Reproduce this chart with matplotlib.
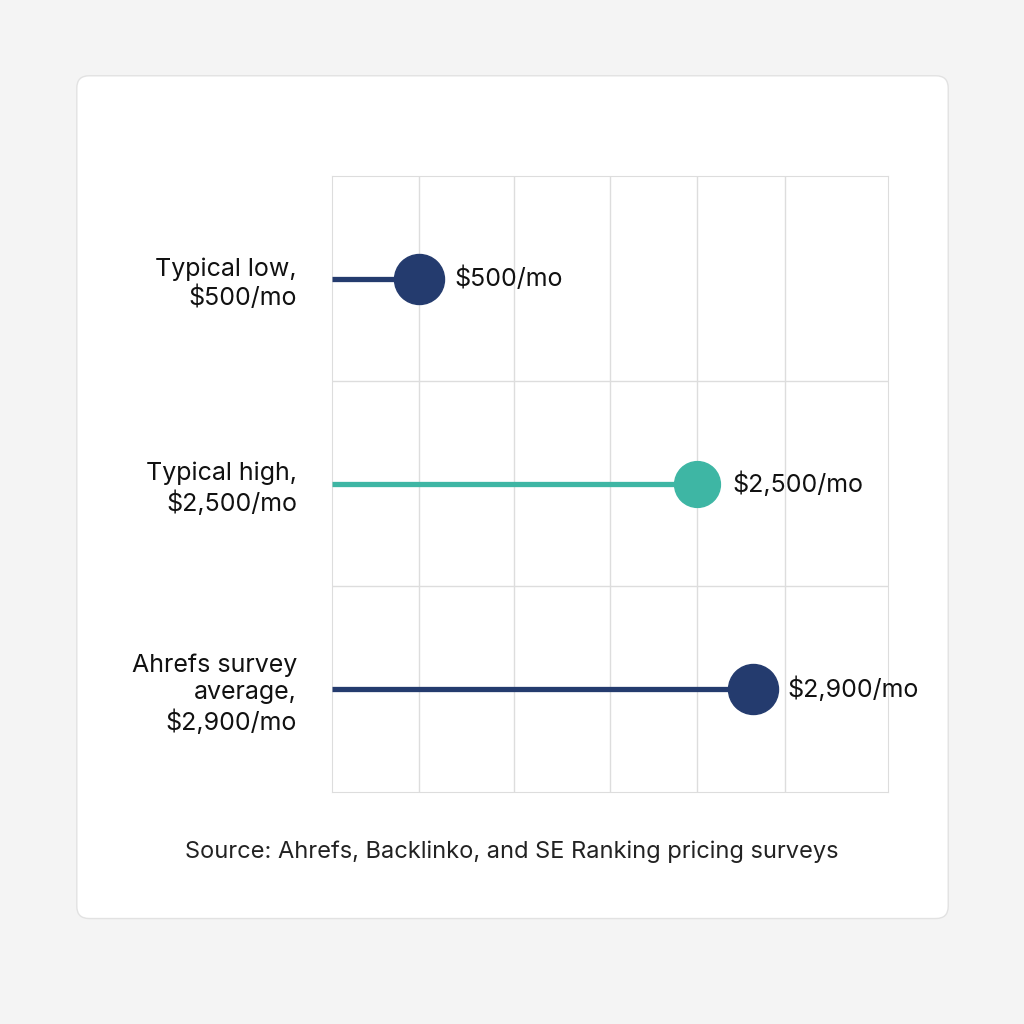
import matplotlib.pyplot as plt
from matplotlib.patches import FancyBboxPatch

plt.rcParams['font.family'] = ['Inter', 'DejaVu Sans']

labels = ["Typical low,\n$500/mo", "Typical high,\n$2,500/mo", "Ahrefs survey\naverage,\n$2,900/mo"]
values = [500, 2500, 2900]
value_text = ["$500/mo", "$2,500/mo", "$2,900/mo"]
colors = ["#243b6e", "#3eb6a4", "#243b6e"]
grid_x = [500, 1180, 1870, 2500, 3130]

fig = plt.figure(figsize=(10.24, 10.24), dpi=100)
fig.patch.set_facecolor("#f4f4f4")
card = FancyBboxPatch((0.075, 0.103), 0.851, 0.823, boxstyle="round,pad=0,rounding_size=0.012",
                      transform=fig.transFigure, facecolor="white", edgecolor="#e2e2e2", lw=1,
                      zorder=-10)
fig.patches.append(card)

ax = fig.add_axes([0.324, 0.227, 0.543, 0.601])
ax.set_facecolor("none")
xmin = -130
for i, (v, c, t) in enumerate(zip(values, colors, value_text)):
    ax.plot([xmin, v], [i, i], color=c, lw=3.8, solid_capstyle="butt", zorder=3)
    ax.plot(v, i, "o", color=c, ms=36 if c != "#3eb6a4" else 33, zorder=4)
    ax.text(v + 250, i, t, va="center", ha="left", fontsize=18, color="#111111", zorder=5)

ax.set_xlim(xmin, 3870)
ax.set_ylim(2.5, -0.5)
ax.set_xticks(grid_x)
ax.set_yticks(range(3))
ax.set_yticklabels(labels, fontsize=18, color="#111111", linespacing=1.25)
ax.set_yticks([0.5, 1.5], minor=True)
ax.tick_params(axis="both", which="both", length=0)
ax.tick_params(axis="y", pad=25)
ax.set_xticklabels([])
ax.grid(True, axis="x", color="#dddddd", lw=1)
ax.grid(True, axis="y", which="minor", color="#dddddd", lw=1)
for s in ax.spines.values():
    s.set_color("#dddddd")

fig.text(0.5, 0.168, "Source: Ahrefs, Backlinko, and SE Ranking pricing surveys",
         ha="center", va="center", fontsize=17, color="#222222")

fig.savefig("out.png", dpi=100, facecolor=fig.get_facecolor())
